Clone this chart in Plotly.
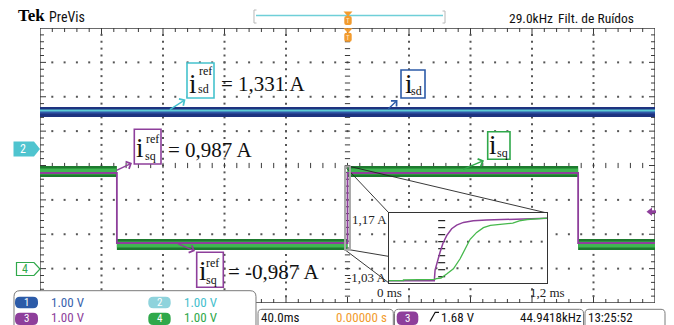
import plotly.graph_objects as go

W, H = 674, 325

# ---------------- signals ----------------
TIME_RANGE_MS = [-200, 200]                 # 40 ms/div, 10 divisions
SWITCH_MS = [-150, 0, 150]                  # instants where i_sq^ref steps
ISQ_REF_A = [0.987, -0.987, 0.987, -0.987]  # i_sq^ref level on each interval
ISQ_MEAS_A = [1.03, -1.03, 1.03, -1.03]     # measured i_sq level on each interval
ISD_REF_A = 1.331
ISD_MEAS_A = 1.28

# detail of the step at t = 0 (0 ... 1.2 ms)
ZOOM_REF_MS = [0.0, 0.344, 0.35, 0.365, 0.387, 0.41, 0.438, 0.476, 0.514, 0.565,
               0.64, 0.74, 0.84, 1.0, 1.2]
ZOOM_REF_A = [-1.15, -1.15, -0.75, -0.45, -0.08, 0.27, 0.56, 0.82, 0.96, 1.06,
              1.12, 1.15, 1.17, 1.2, 1.22]
ZOOM_MEAS_MS = [0.0, 0.11, 0.11, 0.25, 0.25, 0.344, 0.36, 0.395, 0.438, 0.489,
                0.54, 0.578, 0.616, 0.666, 0.717, 0.77, 0.85, 0.94, 0.99, 1.05, 1.2]
ZOOM_MEAS_A = [-1.15, -1.15, -1.12, -1.12, -1.10, -1.10, -1.07, -1.05, -0.9, -0.7,
               -0.32, 0.05, 0.42, 0.68, 0.86, 0.95, 1.0, 1.03, 1.12, 1.17, 1.22]
ZOOM_TICK_A = [-1.03, 1.17]
ZOOM_TICK_A_TEXT = ["-1,03 A", "1,17 A"]
ZOOM_TICK_MS = [0, 1.2]
ZOOM_TICK_MS_TEXT = ["0 ms", "1,2 ms"]
ZOOM_WINDOW_MS = [-1.6, 1.6]
ZOOM_WINDOW_A = [-1.18, 1.17]

CH_SCALE = ["1.00 V", "1.00 V", "1.00 V", "1.00 V"]
TIMEBASE = "40.0ms"
TRIG_POS = "0.00000 s"
TRIG_LEVEL = "1.68 V"
TRIG_FREQ = "44.9418kHz"
CLOCK = "13:25:52"
FILTER_FREQ = "29.0kHz"

# ---------------- screen layout ----------------
GL, GR, GT, GB = 40, 655, 28, 303          # graticule edges (px)
IL, IR, IT, IB = 389, 547, 213, 283        # inset edges (px)
DIV_PX = (GB - GT) / 8.0
MS_PX = (GR - GL) / 400.0
ISQ_ZERO_DIV, ISQ_A_PER_DIV = -1.236, 0.9694
ISD_ZERO_DIV, ISD_A_PER_DIV = 0.509, 1.22
INSET_RANGE_A = [-1.239, 1.417]

C_BLUE, C_CYAN, C_PURPLE, C_GREEN = "#2c5ba8", "#45c2cd", "#8e3f9b", "#2fa84a"
C_ORANGE, C_AX, C_DOT = "#f29b2e", "#3a3a3a", "#555555"
SANS_N = "Liberation Sans Narrow, Arial Narrow, Roboto Condensed, DejaVu Sans Condensed, Liberation Sans, sans-serif"
SERIF = "Liberation Serif, Times New Roman, serif"


def X(px):
    return px / W


def Y(py):
    return 1 - py / H


def chan_range(zero_div, a_per_div):
    return [(-4 - zero_div) * a_per_div, (4 - zero_div) * a_per_div]


ISQ_RANGE = chan_range(ISQ_ZERO_DIV, ISQ_A_PER_DIV)
ISD_RANGE = chan_range(ISD_ZERO_DIV, ISD_A_PER_DIV)


def t_at(px):
    return TIME_RANGE_MS[0] + (px - GL) / (GR - GL) * (TIME_RANGE_MS[1] - TIME_RANGE_MS[0])


def isq_at(py):
    return ISQ_RANGE[0] + (GB - py) / (GB - GT) * (ISQ_RANGE[1] - ISQ_RANGE[0])


fig = go.Figure()
skip = dict(hoverinfo="skip", showlegend=False)

# ---------------- graticule ----------------
minor_t = [float(-200 + 8 * k) for k in range(1, 50)]
minor_d = [round(-4 + 0.2 * k, 4) for k in range(1, 40)]
gx, gy = [], []
for d in [-3, -2, -1, 1, 2, 3]:
    gx += minor_t
    gy += [float(d)] * len(minor_t)
for t in [-160, -120, -80, -40, 40, 80, 120, 160]:
    gx += [float(t)] * len(minor_d)
    gy += minor_d
fig.add_trace(go.Scatter(x=gx, y=gy, mode="markers",
                         marker=dict(symbol="square", size=2, color=C_DOT), **skip))

# border ticks and centre-line ticks, expressed in axis units
tx = 4 / DIV_PX
ty = 4 / MS_PX
kx, ky = [], []
for t in minor_t:
    big = 1.5 if t % 40 == 0 else 1.0
    kx += [t, t, None, t, t, None, t, t, None]
    ky += [4, 4 - tx * big, None, -4, -4 + tx * big, None, -tx * 0.65, tx * 0.65, None]
for d in minor_d:
    big = 1.5 if abs(d - round(d)) < 1e-6 else 1.0
    kx += [-200, -200 + ty * big, None, 200, 200 - ty * big, None, -ty * 0.65, ty * 0.65, None]
    ky += [d, d, None, d, d, None, d, d, None]
fig.add_trace(go.Scatter(x=kx, y=ky, mode="lines", line=dict(color=C_AX, width=1),
                         cliponaxis=False, **skip))
fig.add_trace(go.Scatter(x=[-200, 200, 200, -200, -200], y=[4, 4, -4, -4, 4], mode="lines",
                         line=dict(color=C_AX, width=1.3), cliponaxis=False, **skip))

# ---------------- i_sd ----------------
fig.add_trace(go.Scatter(x=TIME_RANGE_MS, y=[ISD_MEAS_A] * 2, yaxis="y3", mode="lines",
                         line=dict(color="#1e3380", width=10), **skip))
fig.add_trace(go.Scatter(x=TIME_RANGE_MS, y=[ISD_MEAS_A] * 2, yaxis="y3", mode="lines",
                         line=dict(color="#3058a8", width=3), **skip))
fig.add_trace(go.Scatter(x=TIME_RANGE_MS, y=[ISD_REF_A] * 2, yaxis="y3", mode="lines",
                         line=dict(color="#5ccbd4", width=2), **skip))

# ---------------- i_sq ----------------
edges = [TIME_RANGE_MS[0]] + SWITCH_MS + [TIME_RANGE_MS[1]]
mx, my = [], []
for k, lvl in enumerate(ISQ_MEAS_A):
    mx += [edges[k], edges[k + 1], None]
    my += [lvl, lvl, None]
fig.add_trace(go.Scatter(x=mx, y=my, yaxis="y4", mode="lines",
                         line=dict(color="#1d7a2e", width=11), **skip))
fig.add_trace(go.Scatter(x=mx, y=my, yaxis="y4", mode="lines",
                         line=dict(color="#3fb651", width=6), **skip))
fig.add_trace(go.Scatter(x=edges, y=ISQ_REF_A + [ISQ_REF_A[-1]], yaxis="y4", mode="lines",
                         line=dict(color=C_PURPLE, width=1.8, shape="hv"), **skip))

# connectors from the zoom window to the inset (hidden behind the inset)
cx, cy = [], []
for (wt, wa), (px, py) in [((ZOOM_WINDOW_MS[0], ZOOM_WINDOW_A[1]), (IL, IT)),
                           ((ZOOM_WINDOW_MS[1], ZOOM_WINDOW_A[1]), (IR, IT)),
                           ((ZOOM_WINDOW_MS[0], ZOOM_WINDOW_A[0]), (IL, IB)),
                           ((ZOOM_WINDOW_MS[1], ZOOM_WINDOW_A[0]), (IR, IB))]:
    cx += [wt, t_at(px), None]
    cy += [wa, isq_at(py), None]
fig.add_trace(go.Scatter(x=cx, y=cy, yaxis="y4", mode="lines",
                         line=dict(color="#222", width=0.9), **skip))

# ---------------- inset ----------------
rows_t = [round(0.04 + 0.08 * k, 4) for k in range(15)]
ix, iy = [], []
for a in [0.33, -0.68]:
    ix += rows_t
    iy += [a] * len(rows_t)
fig.add_trace(go.Scatter(x=ix, y=iy, xaxis="x2", yaxis="y2", mode="markers",
                         marker=dict(symbol="square", size=2, color=C_DOT), **skip))
col_a = [round(-1.0 + 0.266 * k, 4) for k in range(9)]
fig.add_trace(go.Scatter(x=[0.40] * len(col_a), y=col_a, xaxis="x2", yaxis="y2", mode="markers",
                         marker=dict(symbol="line-ew", size=5, line=dict(width=1.2, color="#222")), **skip))
fig.add_trace(go.Scatter(x=ZOOM_REF_MS, y=ZOOM_REF_A, xaxis="x2", yaxis="y2", mode="lines",
                         line=dict(color=C_PURPLE, width=1.5), **skip))
fig.add_trace(go.Scatter(x=ZOOM_MEAS_MS, y=ZOOM_MEAS_A, xaxis="x2", yaxis="y2", mode="lines",
                         line=dict(color="#46b84c", width=1.3), **skip))

# ---------------- shapes ----------------
shapes = []


def P(points, close=True):
    s = "M " + " L ".join(f"{X(x):.5f},{Y(y):.5f}" for x, y in points)
    return s + (" Z" if close else "")


def rrect(x0, y0, x1, y1, r, bottom_round=True):
    rb = r if bottom_round else 0
    pts = [f"M {X(x0):.5f},{Y(y0 + r):.5f}",
           f"Q {X(x0):.5f},{Y(y0):.5f} {X(x0 + r):.5f},{Y(y0):.5f}",
           f"L {X(x1 - r):.5f},{Y(y0):.5f}",
           f"Q {X(x1):.5f},{Y(y0):.5f} {X(x1):.5f},{Y(y0 + r):.5f}",
           f"L {X(x1):.5f},{Y(y1 - rb):.5f}"]
    if rb:
        pts.append(f"Q {X(x1):.5f},{Y(y1):.5f} {X(x1 - rb):.5f},{Y(y1):.5f}")
        pts.append(f"L {X(x0 + rb):.5f},{Y(y1):.5f}")
        pts.append(f"Q {X(x0):.5f},{Y(y1):.5f} {X(x0):.5f},{Y(y1 - rb):.5f}")
    else:
        pts.append(f"L {X(x0):.5f},{Y(y1):.5f}")
    return " ".join(pts) + " Z"


def shape_path(path, fill=None, line=None, lw=1):
    shapes.append(dict(type="path", xref="paper", yref="paper", path=path,
                       fillcolor=fill if fill else "rgba(0,0,0,0)",
                       line=dict(color=line if line else "rgba(0,0,0,0)", width=lw if line else 0)))


# zoom window on the step
shapes.append(dict(type="rect", xref="x", yref="y4", x0=ZOOM_WINDOW_MS[0], x1=ZOOM_WINDOW_MS[1],
                   y0=ZOOM_WINDOW_A[0], y1=ZOOM_WINDOW_A[1], line=dict(color="#a8a8a8", width=2)))

# header
shapes.append(dict(type="line", xref="paper", yref="paper", x0=X(256), x1=X(443), y0=Y(15.5), y1=Y(15.5),
                   line=dict(color="#6fcfd8", width=1.5)))
shape_path(P([(256.5, 10), (254, 10), (254, 23), (256.5, 23)], close=False), line="#b8b8b8", lw=1)
shape_path(P([(442.5, 11), (445, 11), (445, 23), (442.5, 23)], close=False), line="#b8b8b8", lw=1)
for top in (11.5, 28.3):
    shape_path(P([(343.5, top), (352.5, top), (348, top + 5)]), fill=C_ORANGE)
    shape_path(rrect(344.3, top + 4.5, 351.7, top + 13.5, 2), fill=C_ORANGE)

# channel position tags
shape_path(P([(13.5, 141.5), (34, 141.5), (40, 149), (34, 156.5), (13.5, 156.5)]), fill="#4fc4cf")
shape_path(P([(16.5, 262.5), (34, 262.5), (40, 269), (34, 275.5), (16.5, 275.5)]), fill="white",
           line=C_GREEN, lw=1.2)
# trigger level marker
shape_path(P([(646.5, 211.7), (652, 207.5), (652, 216)]), fill=C_PURPLE)
shape_path(P([(651.5, 210.3), (656, 210.3), (656, 213.2), (651.5, 213.2)]), fill=C_PURPLE)

# readout boxes
shape_path(rrect(14, 290.7, 256, 330, 6, bottom_round=False), fill="white", line="#7a7a7a", lw=1)
shape_path(rrect(258, 309.3, 393.3, 330, 4, bottom_round=False), fill="white", line="#7a7a7a", lw=1)
shape_path(rrect(394.5, 309.3, 583.5, 330, 4, bottom_round=False), fill="white", line="#7a7a7a", lw=1)
shape_path(rrect(585, 309.3, 665, 330, 4, bottom_round=False), fill="white", line="#7a7a7a", lw=1)
pills = [(15, 296.8, 38, 308.3, C_BLUE), (148.3, 296.8, 170.7, 308.3, "#8fd3dc"),
         (15, 312.8, 38, 325, C_PURPLE), (148.3, 312.8, 170.7, 325, C_GREEN),
         (396.7, 311.5, 418.3, 325, C_PURPLE)]
for x0, y0, x1, y1, col in pills:
    shape_path(rrect(x0, y0, x1, y1, 5), fill=col)
shape_path(P([(430, 321.5), (435.2, 312.3), (439, 312.3)], close=False), line="#111", lw=1.2)

# ---------------- annotations ----------------
ann = []


def txt(x, y, s, size, color, family=SANS_N, xanchor="left", **kw):
    ann.append(dict(x=X(x), y=Y(y), xref="paper", yref="paper", text=s, showarrow=False,
                    font=dict(family=family, size=size, color=color),
                    xanchor=xanchor, yanchor="middle", borderpad=0, **kw))


def arrow(tail, head, color):
    ann.append(dict(x=X(head[0]), y=Y(head[1]), xref="paper", yref="paper", text="",
                    showarrow=True, arrowhead=4, arrowsize=1.1, arrowwidth=1.4, arrowcolor=color,
                    ax=tail[0] - head[0], ay=tail[1] - head[1], standoff=0))


def fmt(v):
    return f"= {v:.3f} A".replace(".", ",")


# header text
txt(16.5, 16, "<b>Tek</b>", 17, "#000", family=SERIF)
txt(48, 16.5, "PreVis", 14, "#111")
txt(508, 17.5, FILTER_FREQ, 13.5, "#111")
txt(557, 17.5, "Filt. de Ruídos", 13.5, "#111")
for top in (11.5, 28.3):
    txt(348, top + 9.2, "T", 7, "#ffe9c8", xanchor="center")

# tags
txt(22.5, 149, "2", 12, "white", xanchor="center")
txt(25, 269, "4", 12, C_GREEN, xanchor="center")

# readouts
ROW1, ROW2 = 302.3, 317.0
for i, (xc, yc) in enumerate([(26.5, ROW1), (159.5, ROW1), (26.5, ROW2 + 1), (159.5, ROW2 + 1)]):
    txt(xc, yc, str(i + 1), 11, "white", xanchor="center")
txt(50, ROW1, CH_SCALE[0], 13, "#3762ad")
txt(182.7, ROW1, CH_SCALE[1], 13, "#45c0cd")
txt(50, ROW2, CH_SCALE[2], 13, C_PURPLE)
txt(182.7, ROW2, CH_SCALE[3], 13, C_GREEN)
txt(260, ROW2, TIMEBASE, 13, "#111")
txt(388.5, ROW2, TRIG_POS, 13, C_ORANGE, xanchor="right")
txt(407.5, ROW2 + 1, "3", 11, "white", xanchor="center")
txt(440, ROW2, TRIG_LEVEL, 13, "#111")
txt(582.5, ROW2, TRIG_FREQ, 13, "#111", xanchor="right")
txt(587, ROW2, CLOCK, 13, "#111")

# inset scale labels placed on the inset axes
for a, s in zip(ZOOM_TICK_A, ZOOM_TICK_A_TEXT):
    ann.append(dict(x=X(IL - 0.5), y=a, xref="paper", yref="y2", text=s, showarrow=False,
                    font=dict(family=SERIF, size=13, color="#222"), xanchor="right", yanchor="middle",
                    borderpad=0))
for t, s in zip(ZOOM_TICK_MS, ZOOM_TICK_MS_TEXT):
    ann.append(dict(x=t, y=Y(292), xref="x2", yref="paper", text=s, showarrow=False,
                    font=dict(family=SERIF, size=13, color="#222"), xanchor="center", yanchor="middle",
                    borderpad=0))

# current labels
labels = [
    dict(box=(187, 63, 214, 98), col=C_CYAN, i=(192.5, 83.5), sup=(205, 71.5), sub=(203.5, 88.5), s="sd",
         val=(220, 83.5, fmt(ISD_REF_A)), arr=((168.3, 110.5), (185.5, 99.5))),
    dict(box=(401, 70, 425, 98), col=C_BLUE, i=(408.5, 83.5), sup=None, sub=(416.5, 91), s="sd",
         val=None, arr=((386.7, 110.5), (397.5, 100))),
    dict(box=(134.3, 129.3, 161, 164), col=C_PURPLE, i=(139.5, 148), sup=(152.5, 139), sub=(150, 156), s="sq",
         val=(166.5, 150, fmt(ISQ_REF_A[0])), arr=((115, 171), (132, 163))),
    dict(box=(487.7, 131.7, 510, 159.3), col=C_GREEN, i=(493, 145), sup=None, sub=(502, 153), s="sq",
         val=None, arr=((461.7, 170), (484, 160.5))),
    dict(box=(196.7, 252.3, 223.3, 287.3), col=C_PURPLE, i=(202.5, 270.5), sup=(213, 262.5), sub=(211.5, 280),
         s="sq", val=(226.5, 271.7, fmt(ISQ_REF_A[1])), arr=((176.7, 243.3), (195, 251))),
]
for L in labels:
    x0, y0, x1, y1 = L["box"]
    shapes.append(dict(type="rect", xref="paper", yref="paper", x0=X(x0), x1=X(x1), y0=Y(y1), y1=Y(y0),
                       fillcolor="white", line=dict(color=L["col"], width=1.6)))
    txt(L["i"][0], L["i"][1], "i", 27, "#111", family=SERIF, xanchor="center")
    if L["sup"]:
        txt(L["sup"][0], L["sup"][1], "ref", 12, "#111", family=SERIF, xanchor="center")
    txt(L["sub"][0], L["sub"][1], L["s"], 12, "#111", family=SERIF, xanchor="center")
    if L["val"]:
        txt(L["val"][0], L["val"][1], L["val"][2], 21, "#111", family=SERIF)
    arrow(L["arr"][0], L["arr"][1], L["col"])

axis_common = dict(showgrid=False, zeroline=False, fixedrange=True)
fig.update_layout(
    width=W, height=H, autosize=False,
    margin=dict(l=0, r=0, t=0, b=0, pad=0, autoexpand=False),
    paper_bgcolor="white", plot_bgcolor="white", hovermode=False, showlegend=False,
    xaxis=dict(domain=[X(GL), X(GR)], range=TIME_RANGE_MS, showline=False, ticks="",
               showticklabels=False, anchor="y", **axis_common),
    yaxis=dict(domain=[Y(GB), Y(GT)], range=[-4, 4], showline=False, ticks="",
               showticklabels=False, anchor="x", **axis_common),
    yaxis3=dict(overlaying="y", anchor="x", range=ISD_RANGE, visible=False, **axis_common),
    yaxis4=dict(overlaying="y", anchor="x", range=ISQ_RANGE, visible=False, **axis_common),
    xaxis2=dict(domain=[X(IL), X(IR)], range=[0, 1.2], anchor="y2", showline=True, mirror=True,
                linecolor="#333", linewidth=1, ticks="", showticklabels=False, **axis_common),
    yaxis2=dict(domain=[Y(IB), Y(IT)], range=INSET_RANGE_A, anchor="x2", showline=True, mirror=True,
                linecolor="#333", linewidth=1, ticks="", showticklabels=False, **axis_common),
    shapes=shapes, annotations=ann,
)

fig.write_html("out.html")
